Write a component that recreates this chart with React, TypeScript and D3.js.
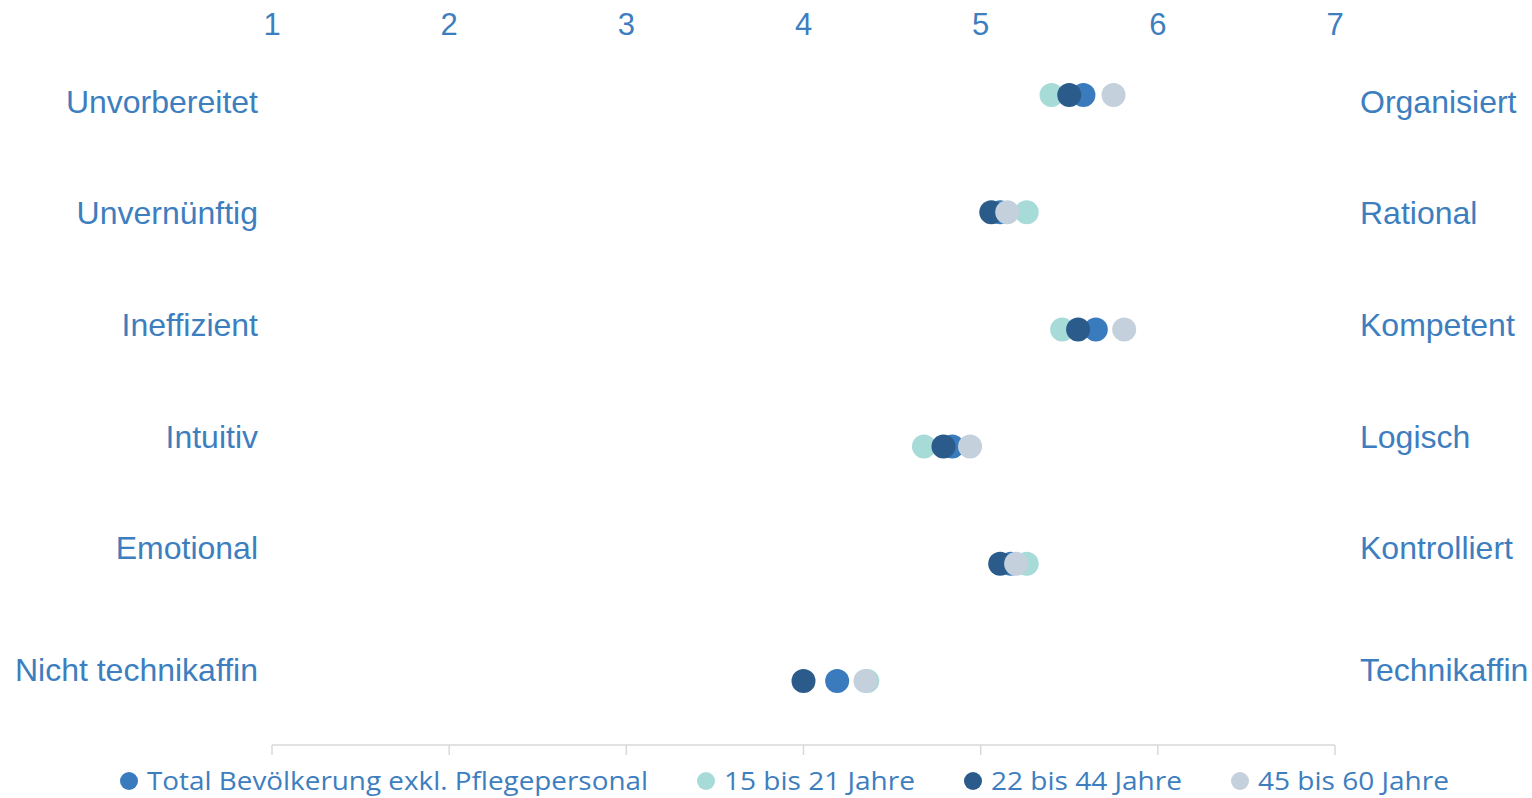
import React from "react";
import * as d3 from "d3";

const leftLabels = ["Unvorbereitet", "Unvernünftig", "Ineffizient", "Intuitiv", "Emotional", "Nicht technikaffin"];
const rightLabels = ["Organisiert", "Rational", "Kompetent", "Logisch", "Kontrolliert", "Technikaffin"];
const seriesNames = ["Total Bevölkerung exkl. Pflegepersonal", "15 bis 21 Jahre", "22 bis 44 Jahre", "45 bis 60 Jahre"];
const seriesColors = ["#3a7bbd", "#a6dbd8", "#2a5b8a", "#c4d0dc"];
const totalValues = [5.58, 5.11, 5.65, 4.84, 5.17, 4.19];
const age15to21 = [5.40, 5.26, 5.46, 4.68, 5.26, 4.36];
const age22to44 = [5.50, 5.06, 5.55, 4.79, 5.11, 4.00];
const age45to60 = [5.75, 5.15, 5.81, 4.94, 5.20, 4.35];
const tickValues = [1, 2, 3, 4, 5, 6, 7];
const labelOffsets = [7, 1, -4, -10, -16, -11];

const W = 1532, H = 798;
const TEXT = "#3d7ebf";

export default function App() {
  const series = [totalValues, age15to21, age22to44, age45to60];
  const x = d3.scaleLinear().domain([1, 7]).range([272, 1335]);
  const y = d3.scaleLinear().domain([0, leftLabels.length - 1]).range([95, 681]);
  const axisY = 745;
  const legendX = [129, 706, 973, 1240];
  const legendW = [501, 191, 191, 191];
  const font = "'Liberation Sans', Arial, sans-serif";
  const legendFont = "'Open Sans', 'Noto Sans', sans-serif";
  return (
    <div style={{ position: "absolute", left: 0, top: 0 }}>
      <svg width={W} height={H} style={{ display: "block", background: "#fff" }}>
        {tickValues.map((t) => (
          <g key={t}>
            <text x={x(t)} y={24} textAnchor="middle" dominantBaseline="central" fill={TEXT} fontSize={31} fontFamily={font}>{t}</text>
            <line x1={x(t)} x2={x(t)} y1={axisY} y2={axisY + 10} stroke="#d9d9d9" strokeWidth={1.5} />
          </g>
        ))}
        <line x1={x(1)} x2={x(7)} y1={axisY} y2={axisY} stroke="#d9d9d9" strokeWidth={1.5} />
        {leftLabels.map((l, i) => (
          <text key={l} x={258} y={y(i) + labelOffsets[i]} textAnchor="end" dominantBaseline="central" fill={TEXT} fontSize={32} fontFamily={font}>{l}</text>
        ))}
        {rightLabels.map((l, i) => (
          <text key={l} x={1360} y={y(i) + labelOffsets[i]} textAnchor="start" dominantBaseline="central" fill={TEXT} fontSize={32} fontFamily={font}>{l}</text>
        ))}
        {series.map((vals, s) => (
          <g key={s}>
            {vals.map((v, i) => (
              <circle key={i} cx={x(v)} cy={y(i)} r={12} fill={seriesColors[s]} />
            ))}
          </g>
        ))}
        {seriesNames.map((n, s) => (
          <g key={n}>
            <circle cx={legendX[s]} cy={781} r={9} fill={seriesColors[s]} />
            <text x={legendX[s] + 18} y={780} dominantBaseline="central" fill={TEXT} fontSize={25} fontFamily={legendFont} textLength={legendW[s]} lengthAdjust="spacingAndGlyphs">{n}</text>
          </g>
        ))}
      </svg>
    </div>
  );
}
